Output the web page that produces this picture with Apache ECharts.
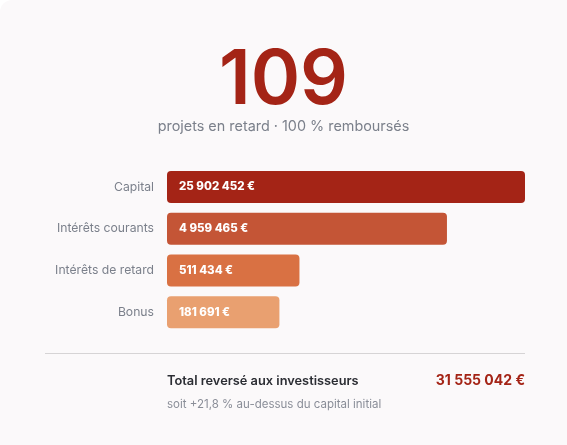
<!DOCTYPE html>
<html>
<head>
<meta charset="utf-8">
<script src="https://cdn.jsdelivr.net/npm/echarts@6/dist/echarts.min.js"></script>
<style>
  html, body { margin: 0; padding: 0; background: #ffffff; }
  #card { position: absolute; left: 0; top: 0; width: 600px; height: 480px; background: #fbf9fa; border-radius: 12px; }
  #chart { position: absolute; left: 0; top: 0; width: 567px; height: 445px; }
</style>
</head>
<body>
<div id="card"></div>
<div id="chart"></div>
<script>
// Data
const categories = ['Capital', 'Intérêts courants', 'Intérêts de retard', 'Bonus'];
const amounts = ['25 902 452 €', '4 959 465 €', '511 434 €', '181 691 €'];
// bar lengths (% of the longest bar)
const barLengths = [100, 78.2, 37.0, 31.4];
const barColors = ['#a42416', '#c45536', '#d97143', '#e9a070'];
const headline = '109';
const subtitle = 'projets en retard · 100 % remboursés';
const totalLabel = 'Total reversé aux investisseurs';
const totalValue = '31 555 042 €';
const footnote = 'soit +21,8 % au-dessus du capital initial';

const font = 'Inter, "Noto Sans", sans-serif';
const chart = echarts.init(document.getElementById('chart'), null, { renderer: 'canvas' });

chart.setOption({
  backgroundColor: 'transparent',
  animation: false,
  grid: { left: 167, right: 42, top: 166, height: 167, containLabel: false },
  xAxis: { type: 'value', min: 0, max: 100, show: false },
  yAxis: {
    type: 'category',
    data: categories,
    inverse: true,
    axisLine: { show: false },
    axisTick: { show: false },
    axisLabel: { color: '#7b808b', fontSize: 12.2, fontFamily: font, margin: 13 }
  },
  series: [{
    type: 'bar',
    barWidth: 32,
    data: barLengths.map((v, i) => ({
      value: v,
      itemStyle: { color: barColors[i], borderRadius: 4 },
      label: { formatter: amounts[i] }
    })),
    label: {
      show: true,
      position: 'insideLeft',
      distance: 12,
      color: '#ffffff',
      fontWeight: 800,
      fontSize: 11.5,
      fontFamily: font
    }
  }],
  graphic: [
    { type: 'text', left: 'center', top: 44, style: { text: headline, fill: '#a42416', font: '600 75px ' + font } },
    { type: 'text', left: 'center', top: 120, style: { text: subtitle, fill: '#7b808b', font: '14.4px ' + font } },
    { type: 'line', shape: { x1: 45, y1: 353.5, x2: 525, y2: 353.5 }, style: { stroke: '#d6d4d5', lineWidth: 1 } },
    { type: 'text', x: 167, y: 381, style: { text: totalLabel, fill: '#2b2d33', font: '600 12.8px ' + font, textVerticalAlign: 'middle' } },
    { type: 'text', x: 525, y: 381, style: { text: totalValue, fill: '#a42416', font: 'bold 14px ' + font, textAlign: 'right', textVerticalAlign: 'middle' } },
    { type: 'text', x: 167, y: 405, style: { text: footnote, fill: '#8a8e98', font: '11.5px ' + font, textVerticalAlign: 'middle' } }
  ]
});
</script>
</body>
</html>
